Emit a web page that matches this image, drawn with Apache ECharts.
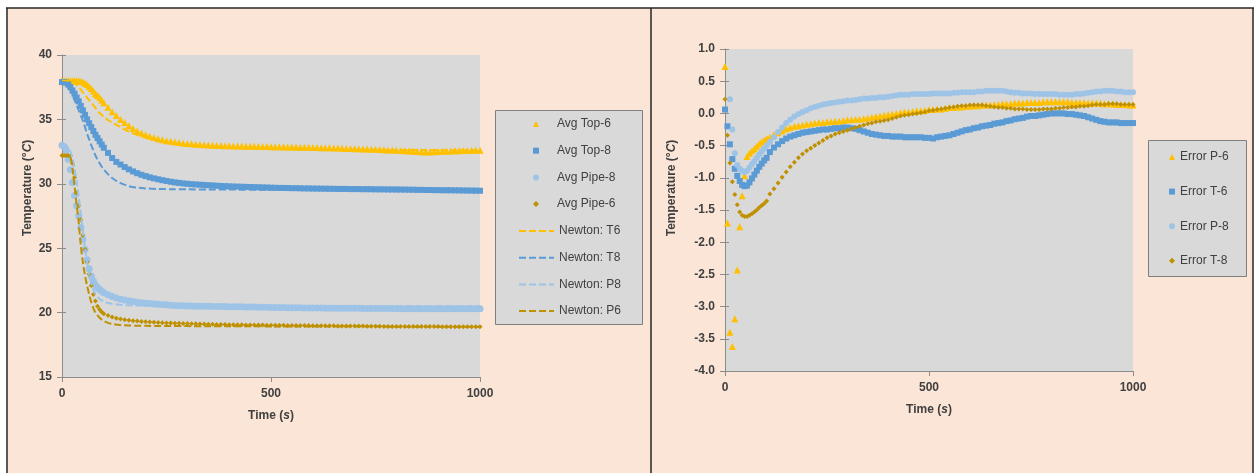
<!DOCTYPE html>
<html><head><meta charset="utf-8">
<script src="https://cdn.jsdelivr.net/npm/echarts@6/dist/echarts.min.js"></script>
<style>html,body{margin:0;padding:0;background:#fff;}#c{width:1256px;height:473px;}</style>
</head><body><div id="c"></div>
<script>
// ---------- Left chart: measured temperatures (s, °C) ----------
const leftTime = [0,5,10,15,20,25,30,35,40,45,50,55,60,65,70,75,80,85,90,95,100,
110,120,130,140,150,160,170,180,190,200,210,220,230,240,250,260,270,280,290,300,
310,320,330,340,350,360,370,380,390,400,410,420,430,440,450,460,470,480,490,500,
510,520,530,540,550,560,570,580,590,600,610,620,630,640,650,660,670,680,690,700,
710,720,730,740,750,760,770,780,790,800,810,820,830,840,850,860,870,880,890,900,
910,920,930,940,950,960,970,980,990,1000];
const avgTop6 = [38.0,38.0,38.0,38.0,38.0,38.0,38.0,38.0,38.0,37.95,37.9,37.8,37.7,37.55,37.4,37.2,37.0,36.85,36.7,36.5,36.3,
35.95,35.6,35.3,35.0,34.75,34.5,34.3,34.1,33.95,33.8,
33.7,33.6,33.5,33.42,33.35,33.3,33.25,33.2,33.15,33.12,
33.1,33.07,33.05,33.03,33.01,33.0,32.98,32.97,32.96,32.95,
32.94,32.94,32.93,32.92,32.92,32.91,32.9,32.9,32.89,32.88,
32.88,32.87,32.87,32.86,32.85,32.85,32.84,32.83,32.83,32.82,
32.81,32.8,32.8,32.79,32.78,32.77,32.76,32.75,32.74,32.73,
32.72,32.71,32.7,32.69,32.68,32.66,32.65,32.63,32.62,32.6,
32.58,32.56,32.54,32.52,32.5,32.48,32.47,32.47,32.48,32.5,
32.52,32.53,32.55,32.56,32.57,32.58,32.59,32.6,32.6,32.6];
const avgTop8 = [37.9,37.9,37.85,37.7,37.5,37.25,37.0,36.7,36.4,36.05,35.7,35.35,35.0,34.7,34.4,34.1,33.8,33.55,33.3,33.05,32.8,
32.4,32.0,31.7,31.5,31.3,31.12,30.96,30.82,30.7,30.6,
30.5,30.42,30.35,30.28,30.22,30.16,30.11,30.07,30.03,30.0,
29.97,29.95,29.93,29.91,29.89,29.87,29.85,29.83,29.82,29.8,
29.79,29.78,29.77,29.76,29.75,29.74,29.73,29.72,29.71,29.7,
29.69,29.68,29.68,29.67,29.66,29.66,29.65,29.64,29.64,29.63,
29.63,29.62,29.62,29.61,29.61,29.6,29.6,29.6,29.59,29.59,
29.59,29.58,29.58,29.58,29.57,29.57,29.57,29.56,29.56,29.56,
29.55,29.55,29.54,29.54,29.53,29.53,29.52,29.52,29.51,29.51,
29.5,29.5,29.5,29.49,29.49,29.48,29.48,29.47,29.47,29.46];
const avgPipe8 = [33.0,32.9,32.6,31.9,31.1,30.1,29.1,28.3,27.5,26.6,25.7,24.9,24.1,23.4,22.85,22.45,22.15,21.95,21.8,21.65,21.55,
21.38,21.25,21.13,21.04,20.97,20.91,20.86,20.81,20.77,20.73,
20.7,20.67,20.64,20.62,20.6,20.58,20.56,20.54,20.53,20.52,
20.51,20.5,20.5,20.49,20.49,20.48,20.48,20.47,20.47,20.46,
20.46,20.45,20.45,20.44,20.43,20.43,20.42,20.41,20.41,20.4,
20.4,20.39,20.39,20.38,20.38,20.37,20.37,20.36,20.36,20.35,
20.35,20.35,20.34,20.34,20.34,20.34,20.33,20.33,20.33,20.33,
20.33,20.32,20.32,20.32,20.32,20.31,20.31,20.31,20.31,20.3,
20.3,20.3,20.3,20.3,20.3,20.3,20.3,20.3,20.3,20.3,
20.3,20.3,20.3,20.3,20.3,20.3,20.3,20.3,20.3,20.3];
const avgPipe6 = [32.2,32.2,32.2,32.2,32.15,31.6,30.5,29.3,28.3,27.2,26.0,24.9,23.9,23.0,22.1,21.4,20.9,20.5,20.25,20.05,19.92,
19.78,19.66,19.57,19.5,19.45,19.41,19.37,19.34,19.31,19.29,
19.27,19.25,19.23,19.21,19.2,19.19,19.18,19.17,19.16,19.15,
19.14,19.13,19.12,19.11,19.1,19.09,19.08,19.08,19.07,19.06,
19.06,19.05,19.05,19.04,19.04,19.03,19.03,19.03,19.02,19.02,
19.02,19.01,19.01,19.0,19.0,19.0,18.99,18.99,18.99,18.98,
18.98,18.98,18.97,18.97,18.97,18.96,18.96,18.96,18.95,18.95,
18.95,18.95,18.94,18.94,18.94,18.94,18.93,18.93,18.93,18.93,
18.93,18.92,18.92,18.92,18.92,18.92,18.92,18.92,18.92,18.92,
18.91,18.91,18.91,18.91,18.91,18.9,18.9,18.9,18.9,18.9];

// ---------- Left chart: Newton model curves ----------
const newtonTime = [0,10,15,20,25,30,35,40,45,50,55,60,65,70,75,80,90,100,110,120,140,160,180,200,230,260,300,350,400,500,600,800,1000];
const newtonT6 = [38.0,38.0,38.0,37.95,37.9,37.8,37.65,37.5,37.3,37.1,36.9,36.7,36.5,36.3,36.1,35.9,35.5,35.2,34.95,34.75,34.4,34.05,33.8,33.6,33.35,33.15,33.0,32.88,32.8,32.7,32.66,32.63,32.6];
const newtonT8 = [37.9,37.85,37.6,37.3,36.9,36.5,36.1,35.7,35.3,34.9,34.4,33.9,33.45,33.0,32.6,32.2,31.6,31.1,30.75,30.45,30.05,29.82,29.7,29.64,29.6,29.58,29.57,29.56,29.55,29.54,29.53,29.51,29.48];
const newtonP8 = [33.0,32.95,32.8,32.5,32.0,31.2,30.2,29.0,27.7,26.3,25.0,23.9,23.0,22.3,21.8,21.45,21.05,20.85,20.75,20.68,20.6,20.57,20.55,20.54,20.53,20.52,20.52,20.51,20.51,20.5,20.5,20.5,20.5];
const newtonP6 = [32.2,32.2,32.2,32.1,31.2,29.8,28.4,27.0,25.2,23.9,22.9,22.1,21.4,20.8,20.35,20.0,19.6,19.35,19.2,19.12,19.03,19.0,18.98,18.97,18.96,18.95,18.95,18.94,18.94,18.93,18.92,18.91,18.9];

// ---------- Right chart: errors (s, °C) ----------
const errTime = [0,6,12,18,24,30,36,42,48,54,60,66,72,78,84,90,96,102,
110,120,130,140,150,160,170,180,190,200,210,220,230,240,250,260,270,280,290,300,
310,320,330,340,350,360,370,380,390,400,410,420,430,440,450,460,470,480,490,500,
510,520,530,540,550,560,570,580,590,600,610,620,630,640,650,660,670,680,690,700,
710,720,730,740,750,760,770,780,790,800,810,820,830,840,850,860,870,880,890,900,
910,920,930,940,950,960,970,980,990,1000];
const errP6 = [0.73,-1.70,-3.40,-3.62,-3.19,-2.43,-1.76,-1.28,-0.97,-0.67,-0.62,-0.58,-0.55,-0.51,-0.47,-0.44,-0.42,-0.39,
-0.37,-0.33,-0.3,-0.27,-0.24,-0.22,-0.2,-0.19,-0.18,-0.17,
-0.16,-0.15,-0.14,-0.14,-0.13,-0.13,-0.12,-0.12,-0.11,-0.1,
-0.1,-0.09,-0.09,-0.08,-0.07,-0.06,-0.05,-0.04,-0.03,-0.02,
-0.01,0.0,0.01,0.02,0.02,0.03,0.04,0.04,0.05,0.06,
0.06,0.07,0.07,0.08,0.09,0.09,0.1,0.1,0.11,0.11,
0.12,0.12,0.13,0.13,0.13,0.14,0.14,0.15,0.15,0.15,
0.16,0.16,0.16,0.17,0.17,0.17,0.17,0.18,0.18,0.18,
0.18,0.18,0.18,0.18,0.17,0.17,0.17,0.17,0.16,0.16,
0.16,0.16,0.15,0.15,0.15,0.14,0.14,0.14,0.13,0.13];
const errT6 = [0.06,-0.2,-0.48,-0.71,-0.86,-0.97,-1.05,-1.11,-1.13,-1.12,-1.07,-1.01,-0.95,-0.89,-0.83,-0.78,-0.73,-0.69,
-0.6,-0.53,-0.48,-0.43,-0.39,-0.36,-0.34,-0.32,-0.3,-0.29,
-0.28,-0.27,-0.26,-0.25,-0.25,-0.24,-0.23,-0.23,-0.22,-0.22,
-0.23,-0.24,-0.26,-0.28,-0.3,-0.32,-0.33,-0.34,-0.35,-0.35,
-0.36,-0.36,-0.36,-0.37,-0.37,-0.37,-0.37,-0.37,-0.38,-0.38,
-0.39,-0.37,-0.36,-0.35,-0.34,-0.32,-0.3,-0.28,-0.26,-0.25,
-0.23,-0.22,-0.2,-0.19,-0.18,-0.16,-0.15,-0.14,-0.12,-0.11,
-0.09,-0.08,-0.07,-0.05,-0.04,-0.04,-0.03,-0.02,-0.01,0.0,
0.0,0.0,0.0,-0.01,-0.01,-0.02,-0.03,-0.04,-0.06,-0.08,
-0.1,-0.12,-0.13,-0.14,-0.14,-0.14,-0.15,-0.15,-0.15,-0.15];
const errP8 = [null,null,0.22,-0.25,-0.62,-0.8,-0.86,-0.89,-0.91,-0.89,-0.84,-0.79,-0.74,-0.69,-0.64,-0.59,-0.55,-0.5,
-0.44,-0.37,-0.29,-0.22,-0.15,-0.1,-0.05,-0.01,0.02,0.05,
0.08,0.1,0.12,0.14,0.15,0.16,0.17,0.18,0.19,0.2,
0.2,0.21,0.22,0.23,0.23,0.24,0.24,0.25,0.25,0.26,
0.27,0.28,0.29,0.29,0.29,0.3,0.3,0.3,0.3,0.3,
0.31,0.31,0.31,0.31,0.31,0.32,0.32,0.33,0.33,0.33,
0.33,0.34,0.34,0.35,0.35,0.35,0.35,0.35,0.34,0.33,
0.32,0.32,0.31,0.31,0.31,0.3,0.3,0.3,0.3,0.3,
0.3,0.29,0.29,0.29,0.29,0.3,0.3,0.31,0.32,0.33,
0.34,0.34,0.35,0.35,0.35,0.34,0.34,0.33,0.33,0.33];
const errT8 = [0.22,-0.34,-0.77,-1.06,-1.26,-1.42,-1.53,-1.58,-1.6,-1.6,-1.58,-1.56,-1.53,-1.5,-1.46,-1.43,-1.4,-1.36,
-1.25,-1.17,-1.08,-0.99,-0.91,-0.83,-0.76,-0.69,-0.63,-0.58,
-0.54,-0.5,-0.46,-0.42,-0.38,-0.35,-0.32,-0.3,-0.28,-0.26,
-0.24,-0.22,-0.2,-0.18,-0.16,-0.15,-0.13,-0.12,-0.11,-0.1,
-0.08,-0.06,-0.04,-0.03,-0.02,-0.01,0.0,0.01,0.02,0.04,
0.05,0.06,0.07,0.08,0.09,0.1,0.11,0.12,0.12,0.13,
0.13,0.13,0.13,0.12,0.11,0.1,0.09,0.09,0.08,0.08,
0.07,0.07,0.07,0.06,0.06,0.06,0.06,0.07,0.07,0.07,
0.08,0.08,0.09,0.09,0.1,0.1,0.11,0.11,0.12,0.13,
0.14,0.14,0.14,0.15,0.15,0.15,0.14,0.14,0.14,0.14];

// ---------- Tick settings ----------
const leftX = {min: 0, max: 1000, interval: 500};
const leftY = {min: 15, max: 40, interval: 5};
const rightY = {min: -4, max: 1, interval: 0.5};

const FONT = 'Liberation Sans';
const TXT = '#404040';
const C = {yellow: '#FFC000', blue: '#5B9BD5', light: '#9DC3E6', brown: '#BF9000'};

function pairs(xs, ys) {
  return xs.map((x, i) => [x, ys[i]]).filter(p => p[1] !== null);
}
const italicRich = {i: {fontStyle: 'italic', fontWeight: 'bold', fontSize: 12, color: TXT, fontFamily: FONT}};
const axisLbl = {color: TXT, fontFamily: FONT, fontSize: 12, fontWeight: 'bold'};
const axLine = {show: true, onZero: false, lineStyle: {color: '#8c8c8c', width: 1}};

function xAx(grid, nameGap) {
  return {type: 'value', gridIndex: grid, min: leftX.min, max: leftX.max, interval: leftX.interval,
    axisLine: axLine, axisTick: {show: true, length: 5, lineStyle: {color: '#8c8c8c'}},
    splitLine: {show: false}, axisLabel: Object.assign({margin: 11, formatter: v => String(v)}, axisLbl),
    name: 'Time ({i|s})', nameLocation: 'middle', nameGap: nameGap,
    nameTextStyle: {color: TXT, fontFamily: FONT, fontSize: 12, fontWeight: 'bold', rich: italicRich}};
}
function yAx(grid, rng, fmt, nameGap, shift) {
  return {type: 'value', gridIndex: grid, min: rng.min, max: rng.max, interval: rng.interval, position: 'left',
    axisLine: axLine, axisTick: {show: true, length: 5, lineStyle: {color: '#8c8c8c'}},
    splitLine: {show: false}, axisLabel: Object.assign({margin: 10, formatter: fmt}, axisLbl),
    name: 'Temperature (°{i|C})', nameLocation: 'middle', nameGap: nameGap, nameRotate: 90,
    nameTextStyle: {color: TXT, fontFamily: FONT, fontSize: 12, fontWeight: 'bold', rich: italicRich, padding: [0, 0, 0, shift]}};
}
function yTickIn(grid, rng) {
  return {type: 'value', gridIndex: grid, min: rng.min, max: rng.max, interval: rng.interval, position: 'left',
    axisLine: {show: false}, axisLabel: {show: false}, splitLine: {show: false},
    axisTick: {show: true, inside: true, length: 4, lineStyle: {color: '#8c8c8c'}}};
}

function scatter(name, xs, ys, symbol, size, color, xi, yi) {
  return {name, type: 'scatter', xAxisIndex: xi, yAxisIndex: yi, data: pairs(xs, ys),
    symbol, symbolSize: size, itemStyle: {color, opacity: 1}, silent: true};
}
function newton(name, ys, color) {
  return {name, type: 'line', xAxisIndex: 0, yAxisIndex: 0, data: pairs(newtonTime, ys),
    smooth: 0.3, symbol: 'none', lineStyle: {color, width: 2, type: [7, 3]}, itemStyle: {color}, silent: true};
}
const legendText = (padLeft) => ({color: TXT, fontFamily: FONT, fontSize: 12, lineHeight: 14, padding: [0, 0, 0, padLeft]});

const chart = echarts.init(document.getElementById('c'), null, {renderer: 'canvas'});
chart.setOption({
  animation: false,
  backgroundColor: '#ffffff',
  graphic: [
    {type: 'rect', z: -10, shape: {x: 7, y: 8, width: 1246, height: 470}, style: {fill: '#FBE5D6'}},
    {type: 'line', z: 10, shape: {x1: 6, y1: 8, x2: 1254, y2: 8}, style: {stroke: '#262626', lineWidth: 1.5}},
    {type: 'line', z: 10, shape: {x1: 7, y1: 8, x2: 7, y2: 473}, style: {stroke: '#262626', lineWidth: 1.5}},
    {type: 'line', z: 10, shape: {x1: 1253, y1: 8, x2: 1253, y2: 473}, style: {stroke: '#262626', lineWidth: 1.5}},
    {type: 'line', z: 10, shape: {x1: 651, y1: 8, x2: 651, y2: 473}, style: {stroke: '#262626', lineWidth: 1.5}},
    // legend boxes
    {type: 'rect', z: -5, shape: {x: 495.5, y: 110.5, width: 147, height: 214}, style: {fill: '#D9D9D9', stroke: '#7F7F7F', lineWidth: 1}},
    {type: 'rect', z: -5, shape: {x: 1148.5, y: 140.5, width: 98, height: 136}, style: {fill: '#D9D9D9', stroke: '#7F7F7F', lineWidth: 1}}
  ],
  grid: [
    {left: 62, top: 55, width: 418, height: 322, show: true, backgroundColor: '#D9D9D9', borderWidth: 0},
    {left: 725, top: 49, width: 408, height: 322, show: true, backgroundColor: '#D9D9D9', borderWidth: 0}
  ],
  xAxis: [xAx(0, 33), xAx(1, 33)],
  yAxis: [
    yAx(0, leftY, v => String(v), 28, 56), yTickIn(0, leftY),
    yAx(1, rightY, v => v.toFixed(1), 47, 44), yTickIn(1, rightY)
  ],
  legend: [
    {data: ['Avg Top-6', 'Avg Top-8', 'Avg Pipe-8', 'Avg Pipe-6'],
     orient: 'vertical', left: 533, top: 117, padding: 0, itemWidth: 6, itemHeight: 6, itemGap: 12.7,
     selectedMode: false, textStyle: legendText(13)},
    {data: ['Newton: T6', 'Newton: T8', 'Newton: P8', 'Newton: P6'],
     orient: 'vertical', left: 518, top: 224, padding: 0, itemWidth: 35, itemHeight: 6, itemGap: 12.7,
     selectedMode: false, itemStyle: {color: 'rgba(0,0,0,0)', opacity: 0, borderWidth: 0},
     textStyle: legendText(0)},
    {data: ['Error P-6', 'Error T-6', 'Error P-8', 'Error T-8'],
     orient: 'vertical', left: 1169, top: 150, padding: 0, itemWidth: 6, itemHeight: 6, itemGap: 20.6,
     selectedMode: false, textStyle: legendText(0)}
  ],
  series: [
    scatter('Avg Top-6', leftTime, avgTop6, 'triangle', 7, C.yellow, 0, 0),
    scatter('Avg Top-8', leftTime, avgTop8, 'rect', 6, C.blue, 0, 0),
    scatter('Avg Pipe-8', leftTime, avgPipe8, 'circle', 7, C.light, 0, 0),
    scatter('Avg Pipe-6', leftTime, avgPipe6, 'diamond', 5, C.brown, 0, 0),
    newton('Newton: T6', newtonT6, C.yellow),
    newton('Newton: T8', newtonT8, C.blue),
    newton('Newton: P8', newtonP8, C.light),
    newton('Newton: P6', newtonP6, C.brown),
    scatter('Error P-6', errTime, errP6, 'triangle', 7, C.yellow, 1, 2),
    scatter('Error T-6', errTime, errT6, 'rect', 6, C.blue, 1, 2),
    scatter('Error P-8', errTime, errP8, 'circle', 6, C.light, 1, 2),
    scatter('Error T-8', errTime, errT8, 'diamond', 5, C.brown, 1, 2)
  ]
});
</script></body></html>
